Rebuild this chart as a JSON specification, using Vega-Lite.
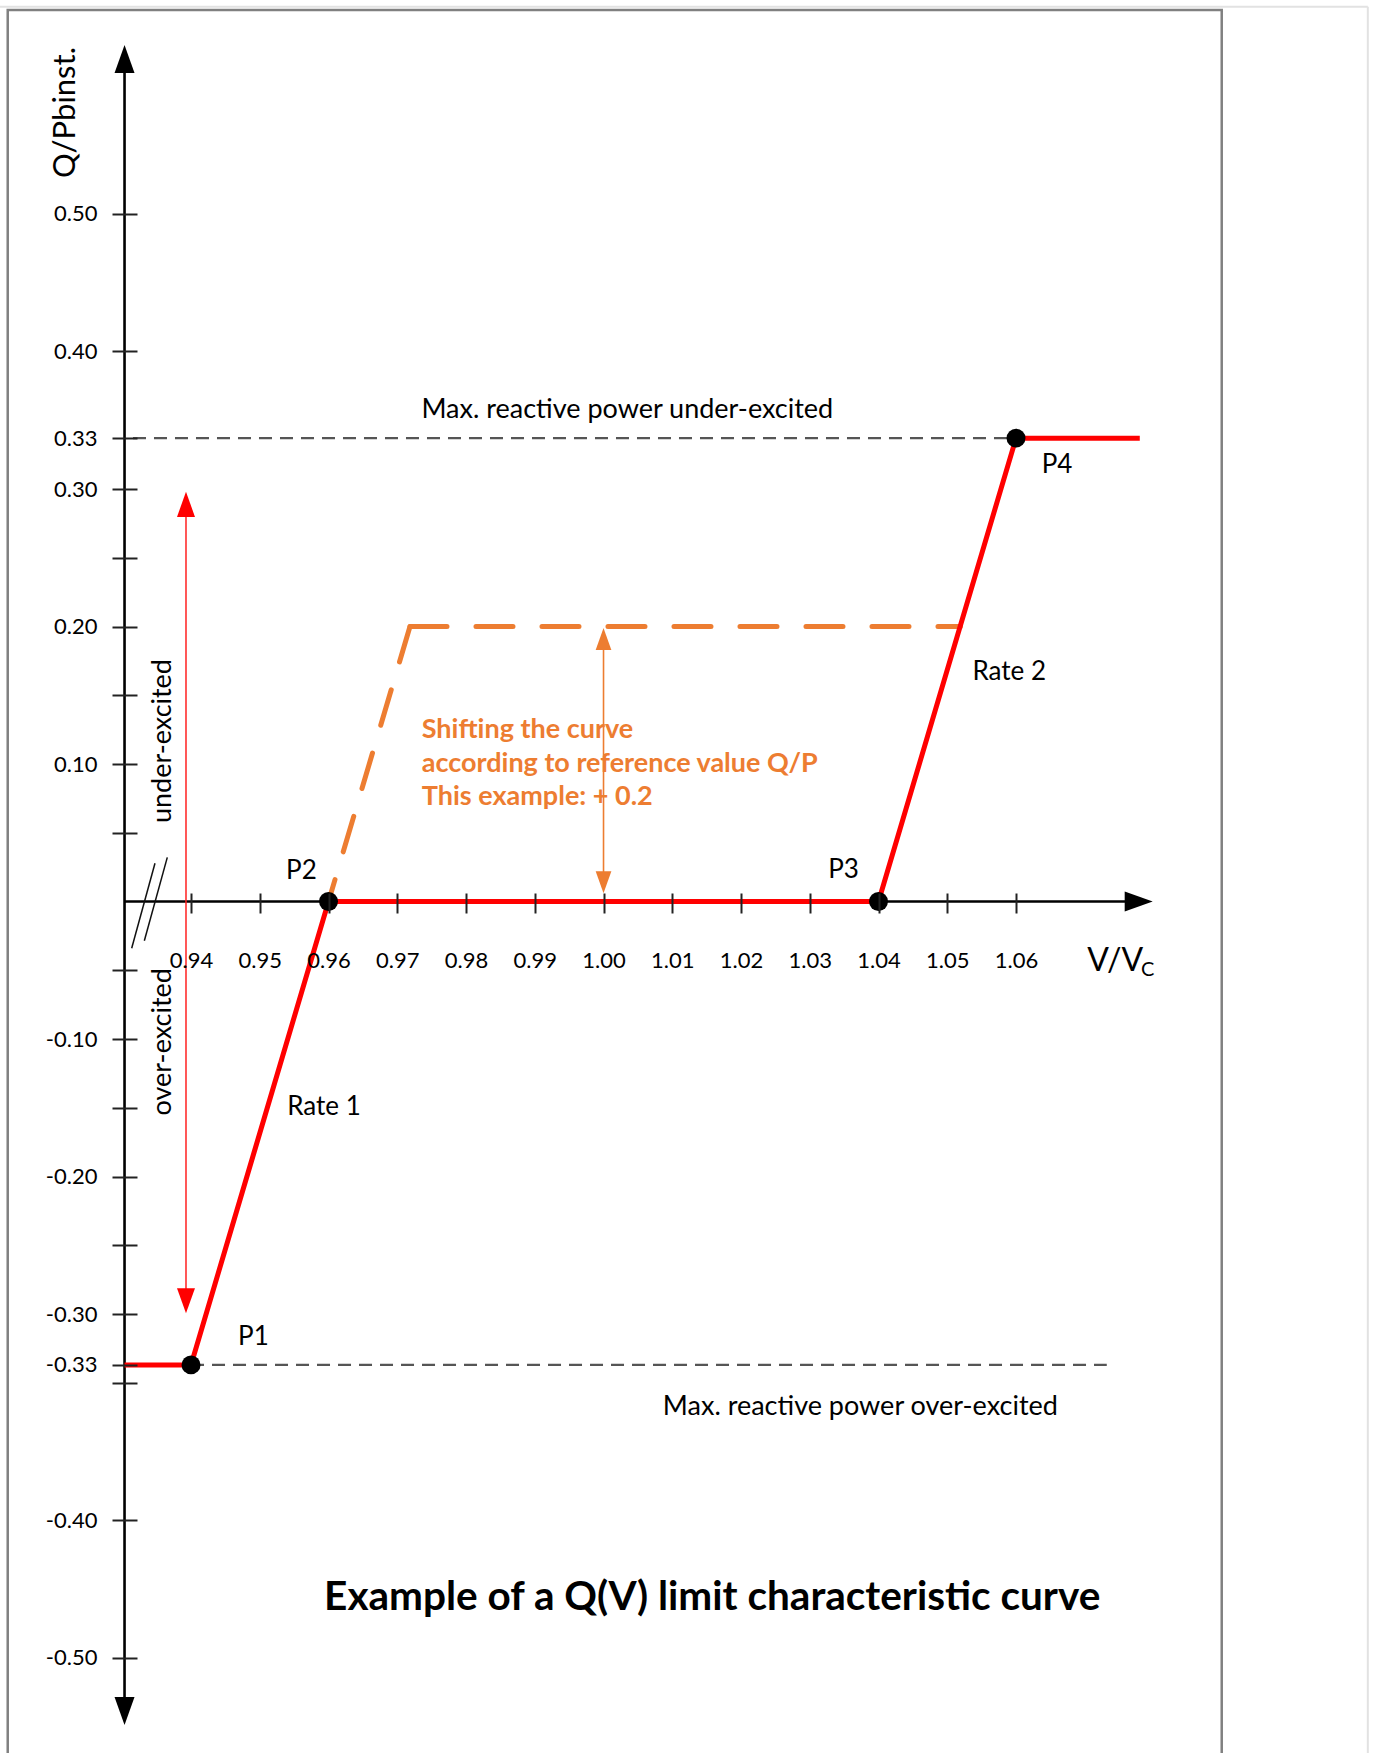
{
  "$schema": "https://vega.github.io/schema/vega-lite/v6.json",
  "autosize": {"type": "none"},
  "padding": {"left": 8, "top": 9, "right": 155, "bottom": 0},
  "width": 1214,
  "height": 1744,
  "background": "white",
  "config": {"view": {"stroke": null}, "font": "Lato"},
  "datasets": {
    "outer": [
      {"x": 0.91222, "x2": 1.11117, "y": 0.65076, "y2": 0.65076},
      {"x": 1.11117, "x2": 1.11117, "y": 0.65076, "y2": -0.64}
    ],
    "frame": [{"x": 0.91334, "x2": 1.08992, "y": 0.64836, "y2": -0.64}],
    "limits": [
      {"x": 0.93156, "x2": 1.06, "y": 0.337, "y2": 0.337},
      {"x": 0.94, "x2": 1.0732, "y": -0.337, "y2": -0.337}
    ],
    "axes": [
      {"x": 0.93033, "x2": 0.93033, "y": 0.61, "y2": -0.587},
      {"x": 0.93033, "x2": 1.077, "y": 0, "y2": 0}
    ],
    "breaks": [
      {"x": 0.93137, "y": -0.034, "x2": 0.93476, "y2": 0.0278},
      {"x": 0.93321, "y": -0.0285, "x2": 0.93655, "y2": 0.0321}
    ],
    "redShaft": [{"x": 0.93927, "x2": 0.93927, "y": 0.285, "y2": -0.285}],
    "orangeShaft": [{"x": 1.0, "x2": 1.0, "y": 0.185, "y2": 0.02}],
    "shifted": [
      {"seg": "a", "i": 0, "x": 0.97185, "y": 0.2},
      {"seg": "a", "i": 1, "x": 0.96, "y": 0},
      {"seg": "b", "i": 0, "x": 0.97185, "y": 0.2},
      {"seg": "b", "i": 1, "x": 1.0519, "y": 0.2}
    ],
    "curve": [
      {"i": 0, "x": 0.93033, "y": -0.337},
      {"i": 1, "x": 0.94, "y": -0.337},
      {"i": 2, "x": 0.96, "y": 0},
      {"i": 3, "x": 1.04, "y": 0},
      {"i": 4, "x": 1.06, "y": 0.337},
      {"i": 5, "x": 1.078, "y": 0.337}
    ],
    "heads": [
      {"x": 0.93033, "y": 0.6229, "dir": "up", "kind": "axis"},
      {"x": 0.93033, "y": -0.5989, "dir": "down", "kind": "axis"},
      {"x": 1.07988, "y": 0, "dir": "right", "kind": "axis"},
      {"x": 0.93927, "y": 0.298, "dir": "up", "kind": "red"},
      {"x": 0.93927, "y": -0.2995, "dir": "down", "kind": "red"},
      {"x": 1.0, "y": 0.1989, "dir": "up", "kind": "orange"},
      {"x": 1.0, "y": 0.006, "dir": "down", "kind": "orange"}
    ],
    "points": [
      {"name": "P1", "x": 0.94, "y": -0.337},
      {"name": "P2", "x": 0.96, "y": 0},
      {"name": "P3", "x": 1.04, "y": 0},
      {"name": "P4", "x": 1.06, "y": 0.337}
    ],
    "labels": [
      {"text": "P1", "x": 0.94684, "y": -0.3166},
      {"text": "P2", "x": 0.95383, "y": 0.0224},
      {"text": "P3", "x": 1.03268, "y": 0.0232},
      {"text": "P4", "x": 1.06374, "y": 0.3175},
      {"text": "Rate 1", "x": 0.95399, "y": -0.1491},
      {"text": "Rate 2", "x": 1.05366, "y": 0.1671}
    ],
    "limitLabels": [
      {"text": "Max. reactive power under-excited", "x": 0.97351, "y": 0.3573},
      {"text": "Max. reactive power over-excited", "x": 1.00863, "y": -0.3678}
    ],
    "side": [
      {"text": "under-excited", "x": 0.93596, "y": 0.1167},
      {"text": "over-excited", "x": 0.93596, "y": -0.102}
    ],
    "shiftText": [
      {"text": "Shifting the curve", "x": 0.97356, "y": 0.1187},
      {"text": "according to reference value Q/P", "x": 0.97356, "y": 0.0944},
      {"text": "This example: + 0.2", "x": 0.97356, "y": 0.0702}
    ],
    "xtitle": [{"text": "V/V", "x": 1.07037, "y": -0.0503}],
    "xsub": [{"text": "C", "x": 1.07818, "y": -0.054}],
    "title": [{"text": "Example of a Q(V) limit characteristic curve", "x": 0.95936, "y": -0.5153}]
  },
  "encoding": {
    "x": {
      "field": "x",
      "type": "quantitative",
      "scale": {"domain": [0.91338, 1.08996], "nice": false, "zero": false},
      "axis": {
        "orient": "bottom",
        "offset": -860,
        "values": [0.94, 0.95, 0.96, 0.97, 0.98, 0.99, 1.0, 1.01, 1.02, 1.03, 1.04, 1.05, 1.06],
        "format": ".2f",
        "domain": false,
        "grid": false,
        "tickSize": 20,
        "tickWidth": 2,
        "tickColor": "#222222",
        "labelPadding": 37,
        "labelFont": "Lato",
        "labelFontSize": 22,
        "labelColor": "#000000",
        "labelOverlap": false,
        "labelFlush": false,
        "labelBound": false,
        "title": null,
        "zindex": 1
      }
    },
    "y": {
      "field": "y",
      "type": "quantitative",
      "scale": {"domain": [-0.61927, 0.64909], "nice": false, "zero": false},
      "axis": {
        "orient": "left",
        "offset": -129,
        "values": [0.5, 0.4, 0.337, 0.3, 0.25, 0.2, 0.15, 0.1, 0.05, -0.05, -0.1, -0.15, -0.2, -0.25, -0.3, -0.337, -0.35, -0.45, -0.55],
        "labelExpr": "datum.value == 0.337 ? '0.33' : datum.value == -0.337 ? '-0.33' : datum.value == -0.45 ? '-0.40' : datum.value == -0.55 ? '-0.50' : indexof(['0.50','0.40','0.30','0.20','0.10'], format(abs(datum.value), '.2f')) >= 0 ? (datum.value < 0 ? '-' : '') + format(abs(datum.value), '.2f') : ''",
        "domain": false,
        "grid": false,
        "tickSize": 25,
        "tickWidth": 2,
        "tickColor": "#222222",
        "labelPadding": 15,
        "labelFont": "Lato",
        "labelFontSize": 22,
        "labelColor": "#000000",
        "labelOverlap": false,
        "labelFlush": false,
        "labelBound": false,
        "title": "Q/Pbinst.",
        "titleFont": "Lato",
        "titleFontSize": 31,
        "titleFontWeight": "normal",
        "titleColor": "#000000",
        "titleAngle": 270,
        "titleAlign": "center",
        "titleBaseline": "middle",
        "titleX": -72,
        "titleY": 103,
        "zindex": 1
      }
    }
  },
  "layer": [
    {
      "data": {"name": "outer"},
      "mark": {"type": "rule", "stroke": "#e2e2e2", "strokeWidth": 2},
      "encoding": {"x2": {"field": "x2"}, "y2": {"field": "y2"}}
    },
    {
      "data": {"name": "frame"},
      "mark": {"type": "rect", "filled": false, "stroke": "#808080", "strokeWidth": 2.5},
      "encoding": {"x2": {"field": "x2"}, "y2": {"field": "y2"}}
    },
    {
      "data": {"name": "limits"},
      "mark": {"type": "rule", "stroke": "#555555", "strokeWidth": 2.2, "strokeDash": [13, 8]},
      "encoding": {"x2": {"field": "x2"}, "y2": {"field": "y2"}}
    },
    {
      "data": {"name": "axes"},
      "mark": {"type": "rule", "stroke": "#000000", "strokeWidth": 2.6},
      "encoding": {"x2": {"field": "x2"}, "y2": {"field": "y2"}}
    },
    {
      "data": {"name": "breaks"},
      "mark": {"type": "rule", "stroke": "#111111", "strokeWidth": 1.5},
      "encoding": {"x2": {"field": "x2"}, "y2": {"field": "y2"}}
    },
    {
      "data": {"name": "redShaft"},
      "mark": {"type": "rule", "stroke": "#ff2020", "strokeWidth": 1.5},
      "encoding": {"x2": {"field": "x2"}, "y2": {"field": "y2"}}
    },
    {
      "data": {"name": "orangeShaft"},
      "mark": {"type": "rule", "stroke": "#ED7D31", "strokeWidth": 1.6},
      "encoding": {"x2": {"field": "x2"}, "y2": {"field": "y2"}}
    },
    {
      "data": {"name": "shifted"},
      "mark": {"type": "line", "stroke": "#ED7D31", "strokeWidth": 5, "strokeDash": [37, 29], "strokeCap": "round"},
      "encoding": {"detail": {"field": "seg"}, "order": {"field": "i"}}
    },
    {
      "data": {"name": "curve"},
      "mark": {"type": "line", "stroke": "#ff0000", "strokeWidth": 5},
      "encoding": {"order": {"field": "i"}}
    },
    {
      "data": {"name": "heads"},
      "mark": {"type": "point", "filled": true, "opacity": 1, "strokeWidth": 0},
      "encoding": {
        "shape": {"field": "dir", "type": "nominal", "legend": null, "scale": {"domain": ["up", "down", "right"], "range": ["M0,0L0.714,2L-0.714,2Z", "M0,0L0.714,-2L-0.714,-2Z", "M0,0L-2,0.714L-2,-0.714Z"]}},
        "size": {"field": "kind", "type": "nominal", "legend": null, "scale": {"domain": ["axis", "red", "orange"], "range": [784, 484, 576]}},
        "color": {"field": "kind", "type": "nominal", "legend": null, "scale": {"domain": ["axis", "red", "orange"], "range": ["#000000", "#ff0000", "#ED7D31"]}}
      }
    },
    {
      "data": {"name": "points"},
      "mark": {"type": "point", "filled": true, "opacity": 1, "size": 360, "color": "#000000", "shape": "circle"}
    },
    {
      "data": {"name": "labels"},
      "mark": {"type": "text", "font": "Lato", "fontSize": 26, "align": "left", "baseline": "middle", "color": "#000000"},
      "encoding": {"text": {"field": "text"}}
    },
    {
      "data": {"name": "limitLabels"},
      "mark": {"type": "text", "font": "Lato", "fontSize": 27, "align": "left", "baseline": "middle", "color": "#000000"},
      "encoding": {"text": {"field": "text"}}
    },
    {
      "data": {"name": "side"},
      "mark": {"type": "text", "font": "Lato", "fontSize": 27, "align": "center", "baseline": "middle", "angle": 270, "color": "#000000"},
      "encoding": {"text": {"field": "text"}}
    },
    {
      "data": {"name": "shiftText"},
      "mark": {"type": "text", "font": "Lato", "fontSize": 27, "fontWeight": "bold", "align": "left", "baseline": "alphabetic", "color": "#ED7D31"},
      "encoding": {"text": {"field": "text"}}
    },
    {
      "data": {"name": "xtitle"},
      "mark": {"type": "text", "font": "Lato", "fontSize": 32, "align": "left", "baseline": "alphabetic", "color": "#000000"},
      "encoding": {"text": {"field": "text"}}
    },
    {
      "data": {"name": "xsub"},
      "mark": {"type": "text", "font": "Lato", "fontSize": 20, "align": "left", "baseline": "alphabetic", "color": "#000000"},
      "encoding": {"text": {"field": "text"}}
    },
    {
      "data": {"name": "title"},
      "mark": {"type": "text", "font": "Lato", "fontSize": 40.5, "fontWeight": "bold", "align": "left", "baseline": "alphabetic", "color": "#000000"},
      "encoding": {"text": {"field": "text"}}
    }
  ]
}
